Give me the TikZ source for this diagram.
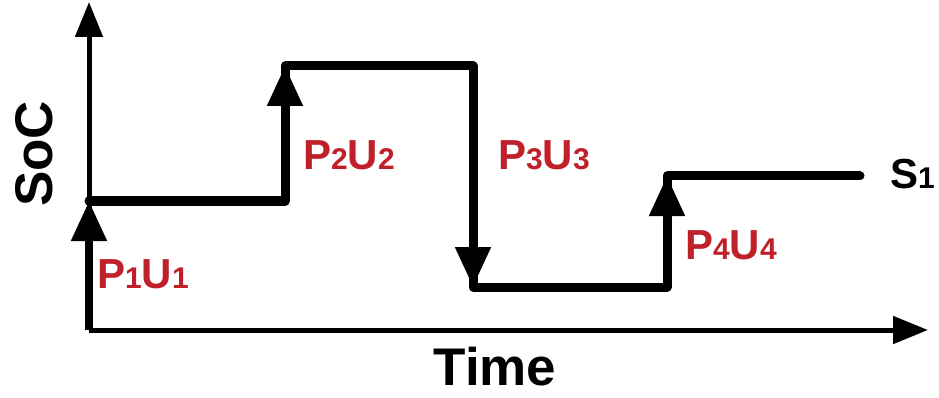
\documentclass[tikz,border=0pt]{standalone}
\usepackage{fontspec}
\setmainfont{Liberation Sans}
\usetikzlibrary{arrows.meta}
\definecolor{lblred}{HTML}{C0202A}
\newcommand{\subd}[1]{{\fontsize{30}{30}\selectfont #1}}
\begin{document}
\begin{tikzpicture}[x=1pt,y=-1pt,
  axisline/.style={line width=5pt,-{Triangle[width=27pt,length=35pt]}},
  socline/.style={line width=9pt,line cap=round,line join=round},
  uparrow/.style={line width=8pt,-{Triangle[width=34pt,length=40pt]}},
  lbl/.style={text=lblred,font=\fontsize{42}{42}\selectfont\bfseries,inner sep=0pt},
  blk/.style={text=black,inner sep=0pt}]
\useasboundingbox (0,0) rectangle (939,398);
\coordinate (O) at (89,330);
\coordinate (Ytop) at (89,2);
\coordinate (Xend) at (928,330);
\coordinate (A) at (89,201);
\coordinate (B) at (285,201);
\coordinate (C) at (285,66);
\coordinate (D) at (473,66);
\coordinate (E) at (473,287);
\coordinate (F) at (667,287);
\coordinate (G) at (667,176);
\coordinate (H) at (860,176);
% axes
\draw[axisline] (O) -- (Ytop);
\draw[axisline] (O) -- (Xend);
% SoC path
\draw[socline] (A) -- (B) -- (C) -- (D) -- (E) -- (F) -- (G) -- (H);
% transition arrows
\draw[uparrow] (O) -- (A);
\draw[uparrow] (B) -- (C);
\draw[uparrow] (D) -- (E);
\draw[uparrow] (F) -- (G);
% labels
\node[lbl,anchor=west] (l1) at (97,274) {P\subd{1}U\subd{1}};
\node[lbl,anchor=west] (l2) at (303,155) {P\subd{2}U\subd{2}};
\node[lbl,anchor=west] (l3) at (498,155) {P\subd{3}U\subd{3}};
\node[lbl,anchor=west] (l4) at (685,245) {P\subd{4}U\subd{4}};
\node[blk,anchor=west,font=\fontsize{42}{42}\selectfont\bfseries] (s1) at (890,174) {S\subd{1}};
\node[blk,font=\fontsize{53}{53}\selectfont\bfseries] (time) at (495,367) {Time};
\node[blk,rotate=90,anchor=base,font=\fontsize{53}{53}\selectfont\bfseries] (soc) at (52,154) {SoC};
\end{tikzpicture}
\end{document}
